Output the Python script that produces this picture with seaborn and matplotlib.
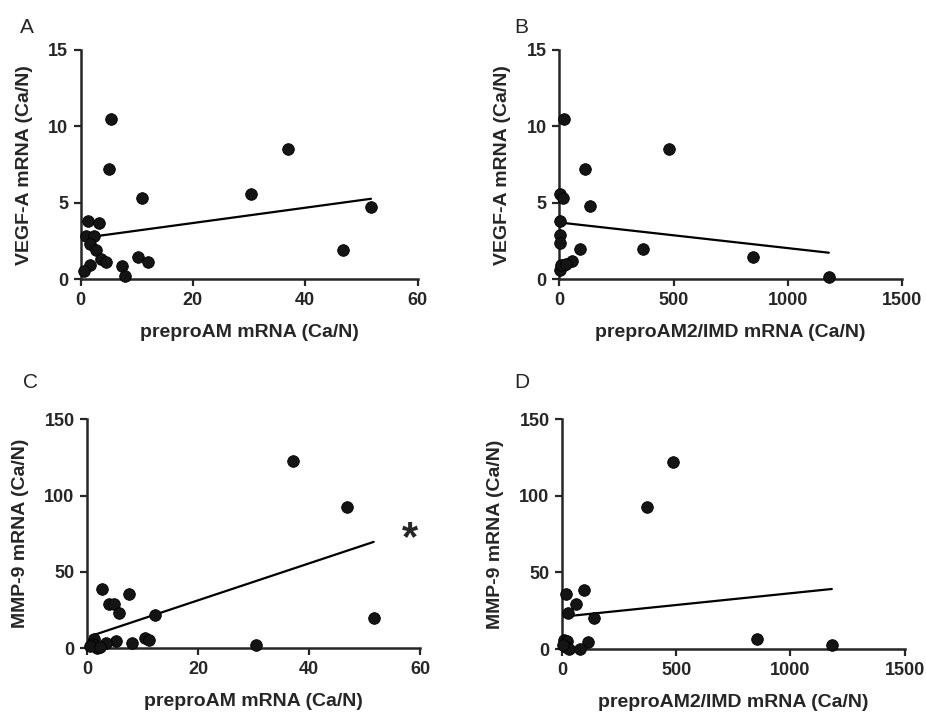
import numpy as np
import pandas as pd
import matplotlib
matplotlib.use("Agg")
import matplotlib.pyplot as plt
import seaborn as sns

# panel A: preproAM vs VEGF-A
am_vegf_x = [5.4, 5.0, 11.0, 30.3, 37.0, 51.7, 46.8, 1.3, 3.2, 1.0, 2.4, 1.65, 2.7, 3.7, 4.55, 1.7, 0.6, 7.4, 7.9, 10.2, 12.0]
am_vegf_y = [10.5, 7.2, 5.3, 5.6, 8.5, 4.7, 1.9, 3.8, 3.65, 2.8, 2.85, 2.3, 1.9, 1.35, 1.1, 0.95, 0.55, 0.85, 0.2, 1.45, 1.1]

# panel B: preproAM2/IMD vs VEGF-A
imd_vegf_x = [19, 480, 111, 136, 4, 16, 1, 4, 1, 92, 366, 847, 1180, 56, 19, 4, 8, 30]
imd_vegf_y = [10.5, 8.5, 7.2, 4.8, 5.6, 5.3, 3.8, 2.9, 2.4, 1.95, 1.95, 1.47, 0.15, 1.18, 0.96, 0.57, 0.9, 1.0]

# panel C: preproAM vs MMP-9
am_mmp_x = [37.1, 46.7, 51.6, 30.4, 2.7, 7.5, 3.9, 4.8, 5.7, 12.3, 10.5, 11.1, 5.2, 8.1, 3.5, 1.2, 0.9, 1.8, 1.5, 0.6, 2.4]
am_mmp_y = [122.7, 92.7, 20.0, 2.2, 39.0, 35.8, 29.3, 29.3, 23.4, 21.6, 7.0, 5.2, 4.8, 3.5, 3.5, 6.3, 3.1, 0.0, 2.0, 1.5, 1.0]

# panel D: preproAM2/IMD vs MMP-9
imd_mmp_x = [485, 370, 852, 1181, 96, 19, 62, 26, 140, 115, 9, 22, 16, 30, 77, 4]
imd_mmp_y = [122.2, 92.6, 6.7, 2.8, 38.5, 35.9, 29.4, 23.3, 20.0, 4.4, 5.9, 5.0, 1.5, 0.0, 0.0, 2.5]

am_label = "preproAM mRNA (Ca/N)"
imd_label = "preproAM2/IMD mRNA (Ca/N)"
vegf_label = "VEGF-A mRNA (Ca/N)"
mmp_label = "MMP-9 mRNA (Ca/N)"

sns.set_style("ticks")
plt.rcParams["font.family"] = ["Liberation Sans", "DejaVu Sans"]
plt.rcParams["font.weight"] = "bold"

fig = plt.figure(figsize=(9.26, 7.14), dpi=100)

panels = [
    ("A", am_vegf_x, am_vegf_y, am_label, vegf_label, [0.087, 0.609, 0.364, 0.321], (0, 60), [0, 20, 40, 60], (0, 15), [0, 5, 10, 15]),
    ("B", imd_vegf_x, imd_vegf_y, imd_label, vegf_label, [0.604, 0.609, 0.370, 0.321], (0, 1500), [0, 500, 1000, 1500], (0, 15), [0, 5, 10, 15]),
    ("C", am_mmp_x, am_mmp_y, am_label, mmp_label, [0.094, 0.092, 0.360, 0.321], (0, 60), [0, 20, 40, 60], (0, 150), [0, 50, 100, 150]),
    ("D", imd_mmp_x, imd_mmp_y, imd_label, mmp_label, [0.607, 0.091, 0.370, 0.322], (0, 1500), [0, 500, 1000, 1500], (0, 150), [0, 50, 100, 150]),
]

letter_pos = {"A": (0.022, 0.975), "B": (0.555, 0.975), "C": (0.025, 0.478), "D": (0.555, 0.478)}

for letter, xs, ys, xl, yl, rect, xlim, xticks, ylim, yticks in panels:
    ax = fig.add_axes(rect)
    df = pd.DataFrame({"x": xs, "y": ys})
    sns.regplot(data=df, x="x", y="y", ax=ax, ci=None, truncate=True,
                scatter_kws={"s": 70, "color": "#141414", "edgecolor": "black", "alpha": 1,
                             "linewidths": 0.6, "clip_on": False, "zorder": 3},
                line_kws={"color": "black", "linewidth": 1.6})
    ax.set_xlim(*xlim)
    ax.set_ylim(*ylim)
    ax.set_xticks(xticks)
    ax.set_yticks(yticks)
    ax.set_xlabel(xl, fontsize=14, fontweight="bold", labelpad=11)
    ax.set_ylabel(yl, fontsize=14, fontweight="bold", labelpad=11)
    ax.tick_params(axis="both", labelsize=13, width=1.6, length=5, pad=4, direction="out")
    for lab in ax.get_xticklabels() + ax.get_yticklabels():
        lab.set_fontweight("bold")
    sns.despine(ax=ax)
    for sp in ["left", "bottom"]:
        ax.spines[sp].set_linewidth(1.8)
    fig.text(*letter_pos[letter], letter, fontsize=15, fontweight="normal", ha="left", va="top")

# significance mark on panel C
fig.text(0.443, 0.245, "*", fontsize=30, fontweight="bold", ha="center", va="center")

fig.savefig("out.png", dpi=100)
